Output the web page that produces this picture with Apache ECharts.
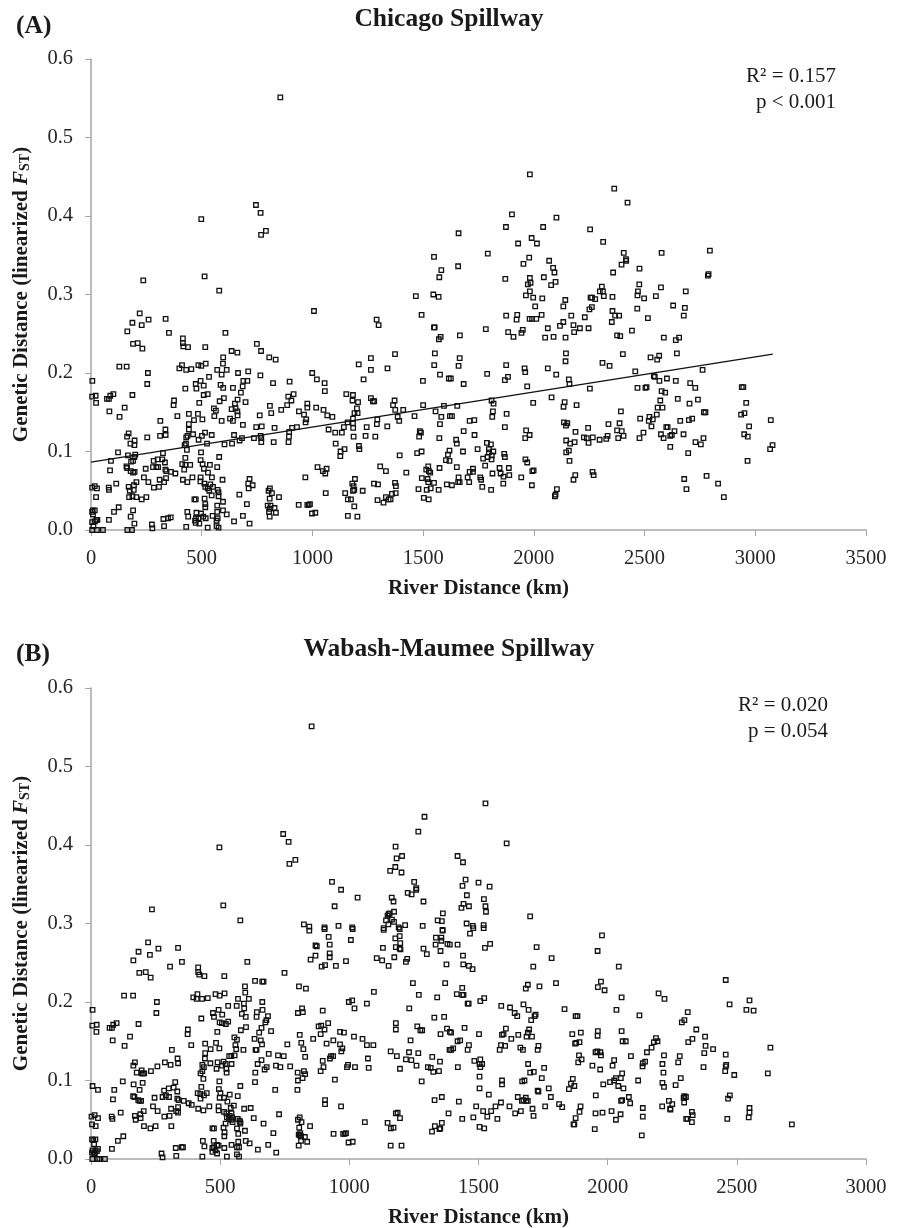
<!DOCTYPE html>
<html><head><meta charset="utf-8">
<style>html,body{margin:0;padding:0;background:#fff}#c{width:899px;height:1228px}</style>
<script src="https://cdn.jsdelivr.net/npm/echarts@6/dist/echarts.min.js"></script>
</head><body><div id="c"></div>
<script>
// [river distance km, linearized Fst]
const chicagoPairs = [[855,.551],[745,.414],[766,.404],[768,.376],[790,.381],[498,.396],[236,.318],[513,.323],[579,.305],[1549,.348],[1582,.331],[1573,.322],[1467,.298],[1546,.300],[1570,.297],
[1982,.453],[2363,.435],[2423,.417],[1901,.402],[2102,.398],[1660,.378],[1874,.386],[2042,.386],[2254,.383],[1990,.372],[1929,.365],[2014,.365],[2313,.367],[1792,.352],[1979,.347],[2406,.353],[2577,.353],[2795,.356],[2416,.345],[2417,.343],[2069,.343],[1953,.339],[1658,.336],[2396,.338],[2087,.334],[2477,.333],[2093,.328],[2358,.328],[1871,.320],[1982,.321],[2045,.322],[2789,.326],[2786,.324],[1985,.315],[1973,.313],[2078,.312],[2098,.316],[2307,.310],[2476,.313],[2574,.309],[2686,.304],[2298,.304],[2312,.304],[1982,.304],[2470,.304],[1964,.299],[1997,.296],[2038,.295],[2316,.298],[2355,.297],[2468,.299],[2551,.298],[2142,.293],[2256,.296],[2263,.296],[2498,.295],[2277,.294],
[220,.276],[260,.268],[337,.269],[187,.264],[229,.261],[164,.253],[352,.251],[607,.251],[1007,.279],[1290,.268],[1299,.261],[1493,.274],[1549,.258],[1552,.258],[1579,.246],[1571,.243],[415,.244],[190,.237],[211,.238],[232,.231],[415,.238],[417,.234],[438,.233],[516,.233],[749,.237],[768,.228],[635,.228],[661,.226],[597,.220],[596,.212],[805,.220],[834,.217],[1373,.224],[1553,.225],[1264,.219],[1209,.211],[1264,.204],[1339,.206],[1550,.210],[128,.208],[161,.208],[411,.210],[399,.206],[430,.204],[453,.205],[485,.210],[498,.209],[518,.212],[570,.204],[613,.204],[590,.198],[533,.195],[257,.200],[254,.186],[6,.190],[664,.200],[710,.202],[765,.197],[999,.200],[1020,.192],[1055,.187],[1231,.192],[1499,.190],[1576,.198],[1616,.193],[897,.189],[822,.187],[688,.190],[706,.190],[473,.186],[495,.190],[509,.184],[476,.180],[426,.180],[585,.185],[597,.181],[641,.181],[685,.183],[1056,.177],[677,.175],[5,.170],[21,.171],[187,.172],[101,.173],[87,.171],[72,.167],[81,.167],[527,.173],[509,.172],[375,.165],[373,.159],[23,.162],[600,.168],[581,.164],[662,.166],[650,.161],[698,.163],[489,.162],[891,.170],[915,.173],[905,.165],[886,.159],[1153,.173],[1183,.172],[1181,.165],[1206,.163],[1264,.168],[1273,.164],[1279,.164],[1371,.165],[1364,.159],[1374,.153],[1410,.153],[1556,.151],[1500,.159],[1594,.158],[977,.161],[977,.156],[1017,.156],[1050,.153],[808,.158],[814,.149],[859,.153],[939,.151],[962,.147],[972,.141],[969,.137],[1201,.155],[1190,.149],[1204,.149],[1067,.146],[1090,.144],[762,.146],[555,.155],[564,.152],[635,.154],[653,.155],[661,.151],[662,.146],[557,.145],[628,.142],[641,.139],[590,.139],[83,.151],[152,.156],[129,.144],[390,.145],[442,.148],[483,.148],[503,.141],[465,.140],[442,.135],[442,.128],[313,.139],[1461,.145],[1582,.144],[1621,.145],[1385,.144],[1392,.139],[1293,.141],[1183,.142],[1159,.137],[1183,.136],[1291,.135],[686,.134],[746,.131],[771,.132],[829,.130],[908,.130],[930,.131],[895,.125],[1142,.131],[1184,.130],[1073,.128],[1245,.131],[1338,.132],[1576,.135],[336,.128],[337,.121],[312,.120],[170,.123],[163,.119],[254,.118],[436,.120],[430,.118],[461,.122],[501,.120],[515,.124],[545,.121],[486,.115],[646,.121],[682,.117],[766,.120],[769,.117],[736,.117],[671,.114],[894,.119],[1103,.124],[1133,.124],[1186,.119],[1240,.120],[1284,.119],[1485,.126],[1490,.124],[1482,.119],[1573,.117],[892,.112],[769,.112],[825,.112],[637,.110],[603,.109],[524,.110],[197,.114],[196,.108],[178,.110],[429,.110],[423,.108],[433,.102],[1105,.110],[1210,.107],[1212,.103],[1145,.103],[1127,.100],[1126,.094],[1394,.095],[1473,.098],[1493,.100],[1612,.096],[1619,.101],[122,.099],[167,.095],[200,.096],[196,.093],[325,.098],[497,.099],[579,.093],[426,.092],[90,.088],[181,.087],[190,.088],[283,.088],[301,.090],[322,.090],[495,.089],[334,.086],[1603,.089],[1619,.088],[160,.081],[163,.079],[179,.075],[190,.073],[197,.074],[412,.084],[426,.083],[448,.083],[504,.084],[537,.083],[570,.080],[247,.078],[280,.080],[295,.080],[303,.080],[86,.076],[336,.077],[340,.075],[361,.074],[381,.072],[421,.077],[510,.078],[528,.073],[546,.067],[1023,.080],[1047,.075],[1064,.078],[1058,.072],[1306,.081],[1332,.075],[1424,.073],[1523,.081],[1574,.079],[1526,.075],[1514,.077],[1532,.073],[968,.067],[716,.065],[239,.067],[259,.061],[284,.054],[307,.055],[310,.064],[339,.066],[330,.061],[458,.067],[415,.064],[435,.061],[495,.067],[494,.062],[512,.059],[594,.064],[1278,.059],[1296,.058],[1373,.060],[1377,.056],[1494,.066],[1520,.065],[1523,.061],[1549,.060],[1607,.058],[1192,.065],[1180,.059],[1186,.056],[1189,.051],[1183,.050],[710,.059],[730,.057],[712,.053],[1479,.052],[1516,.051],[1534,.053],[1570,.051],[5,.054],[17,.056],[27,.053],[80,.054],[81,.051],[114,.059],[170,.055],[194,.057],[205,.061],[193,.051],[175,.050],[516,.055],[527,.053],[539,.058],[551,.055],[534,.050],[572,.051],[576,.048],[808,.053],[802,.050],[817,.047],[670,.045],[1060,.047],[1227,.050],[1148,.047],[849,.042],[172,.042],[187,.043],[205,.042],[229,.039],[250,.042],[23,.042],[467,.039],[473,.039],[513,.040],[545,.044],[576,.043],[807,.040],[1160,.039],[1174,.039],[1294,.038],[1321,.035],[1332,.042],[1344,.039],[1353,.039],[1359,.046],[1376,.047],[1503,.041],[1525,.039],[704,.033],[516,.033],[516,.029],[570,.031],[596,.036],[938,.032],[983,.032],[977,.032],[989,.033],[798,.031],[811,.031],[807,.027],[829,.028],[1189,.030],[125,.029],[104,.023],[8,.025],[5,.023],[17,.025],[190,.025],[435,.023],[476,.022],[497,.021],[570,.023],[596,.025],[613,.020],[835,.022],[804,.023],[998,.021],[1013,.022],[179,.017],[439,.017],[507,.017],[518,.015],[549,.018],[572,.015],[474,.015],[485,.015],[470,.012],[686,.018],[807,.017],[1160,.018],[1203,.017],[9,.020],[81,.013],[24,.013],[18,.011],[29,.013],[5,.010],[196,.008],[327,.014],[348,.015],[360,.016],[646,.011],[567,.012],[473,.009],[489,.008],[716,.008],[275,.007],[277,.002],[330,.005],[430,.004],[527,.003],[567,.005],[576,.003],[5,0],[27,0],[54,0],[164,0],[185,0],[11,.005],
[2006,.285],[2133,.285],[2251,.281],[2262,.284],[2355,.279],[2467,.282],[2629,.286],[2682,.283],[2677,.273],[1875,.273],[1925,.274],[1922,.268],[1981,.269],[1992,.269],[2011,.269],[2035,.274],[2169,.273],[2230,.271],[2367,.273],[2385,.273],[2515,.270],[2352,.265],[2133,.265],[2118,.260],[2179,.261],[2208,.257],[2247,.257],[2063,.257],[1783,.256],[1666,.248],[1884,.252],[1908,.246],[1944,.251],[1950,.255],[2051,.245],[2089,.246],[2143,.245],[2182,.252],[2376,.248],[2390,.247],[2443,.254],[2587,.245],[2641,.242],[2656,.245],[2145,.225],[2143,.215],[2402,.224],[2646,.225],[2527,.220],[2566,.222],[2557,.217],[2310,.213],[2342,.209],[1665,.219],[1660,.209],[1875,.210],[1958,.206],[1961,.201],[2063,.206],[2101,.198],[2458,.202],[2762,.204],[1789,.199],[1625,.193],[1883,.195],[1869,.191],[2158,.192],[2161,.186],[2542,.196],[2546,.195],[2567,.190],[2601,.193],[2641,.190],[2706,.187],[1683,.186],[1970,.183],[2253,.180],[2468,.181],[2509,.182],[2504,.181],[2729,.181],[2939,.182],[2946,.182],[2577,.177],[2593,.175],[2080,.169],[2650,.167],[2571,.165],[2741,.166],[1809,.165],[1818,.161],[1997,.162],[2139,.163],[2134,.157],[2193,.159],[1654,.158],[2703,.161],[2959,.162],[2559,.156],[2581,.156],[1815,.151],[2393,.151],[2768,.150],[2775,.150],[1812,.144],[1877,.148],[2951,.149],[2936,.147],[2555,.147],[2522,.144],[1630,.145],[1710,.139],[1731,.140],[2480,.142],[2537,.141],[2519,.139],[2661,.139],[2700,.140],[2715,.142],[3070,.140],[2136,.137],[2151,.136],[2145,.133],[2337,.135],[2387,.136],[2531,.132],[2598,.131],[2604,.131],[2245,.130],[1869,.131],[2972,.132],[1683,.126],[1965,.127],[2188,.125],[2376,.127],[2397,.126],[2635,.126],[2495,.124],[2574,.122],[2676,.122],[2950,.122],[1732,.121],[1981,.121],[2333,.120],[2405,.120],[2616,.120],[2623,.121],[2966,.119],[1649,.115],[1961,.117],[2226,.118],[2239,.117],[2266,.118],[2297,.115],[2327,.116],[2381,.117],[2477,.117],[2586,.117],[2766,.117],[1652,.110],[1788,.111],[1806,.109],[2146,.114],[2164,.110],[2184,.112],[2247,.111],[2730,.112],[2754,.109],[3078,.108],[1746,.103],[3067,.103],[2616,.106],[1797,.103],[1680,.100],[1817,.100],[1797,.099],[2158,.101],[2146,.099],[2697,.098],[1866,.097],[1869,.093],[1810,.095],[1791,.093],[1771,.091],[1809,.090],[1962,.090],[1970,.086],[2161,.088],[2965,.088],[1780,.082],[1652,.080],[1845,.079],[1887,.079],[1725,.078],[1710,.074],[1725,.074],[1813,.072],[1850,.072],[1889,.070],[1863,.068],[1999,.076],[1993,.075],[2265,.074],[2270,.070],[2187,.070],[2179,.064],[1660,.067],[1658,.061],[1665,.061],[1701,.067],[1708,.061],[1758,.067],[1762,.064],[1943,.067],[1630,.057],[1767,.055],[1807,.051],[1862,.059],[1991,.057],[2679,.065],[2780,.069],[2832,.059],[2689,.052],[2858,.042],[2104,.052],[2098,.045],[2095,.043]];

const wabashPairs = [[854,.551],[744,.414],[765,.404],[768,.376],[791,.381],[497,.397],[236,.318],[512,.323],[578,.304],[933,.353],[968,.343],[1032,.333],[943,.322],[824,.299],[845,.296],[904,.295],[958,.297],[1011,.295],[1291,.436],[1267,.417],[1179,.398],[1183,.383],[1204,.386],[1178,.372],[1158,.367],[1202,.365],[1251,.353],[1259,.345],[1259,.343],[1226,.339],[1241,.337],[1287,.328],[1164,.333],[1171,.328],[1362,.313],[1173,.315],[1156,.313],[1152,.312],[1148,.310],[1142,.304],[1165,.305],[1173,.302],[1151,.299],[1342,.304],[1358,.303],[1133,.294],[1191,.295],[1216,.298],[1284,.297],[1361,.292],
[1527,.453],[1609,.402],[1419,.386],[1440,.378],[1450,.356],[1438,.348],[1500,.352],[1543,.347],[1455,.336],[1521,.331],[1442,.325],[1434,.320],[1463,.322],[1527,.322],[1529,.315],[1700,.309],[1454,.300],[1478,.297],[1520,.298],
[845,.291],[904,.293],[1013,.293],[1133,.292],[1195,.293],[1361,.291],[920,.283],[1006,.279],[1178,.281],[1195,.284],[1335,.282],[1356,.282],[1356,.278],[1334,.273],[1380,.274],[1389,.273],[869,.272],[874,.271],[924,.273],[1180,.270],[1197,.275],[1195,.268],[1198,.267],[1130,.269],[1287,.268],[1300,.261],[1353,.265],[924,.262],[924,.257],[869,.259],[850,.254],[987,.252],[1106,.256],[1127,.253],[1152,.246],[1174,.257],[1224,.255],[1219,.251],[1376,.248],[893,.245],[906,.247],[948,.246],
[221,.276],[261,.268],[337,.269],[184,.264],[228,.260],[164,.253],[352,.251],[605,.251],[306,.245],[415,.244],[187,.237],[212,.238],[231,.231],[415,.238],[419,.235],[439,.233],[516,.233],[749,.237],[635,.227],[663,.226],[668,.226],[1246,.224],[1371,.224],[596,.220],[597,.212],[805,.220],[832,.217],[1095,.213],[1269,.209],[1340,.206],[128,.208],[163,.208],[412,.210],[396,.206],[409,.204],[430,.204],[452,.205],[482,.210],[498,.208],[517,.211],[569,.204],[611,.204],[592,.198],[531,.195],[255,.200],[253,.186],[6,.190],[663,.200],[564,.195],[593,.192],[998,.200],[1011,.202],[1068,.198],[1020,.192],[1232,.192],[817,.192],[801,.186],[820,.187],[897,.189],[472,.186],[494,.190],[508,.184],[476,.181],[427,.179],[584,.185],[599,.181],[642,.187],[641,.181],[664,.190],[685,.182],[679,.177],[675,.174],[1329,.180],[1367,.181],[5,.170],[22,.171],[184,.172],[99,.173],[86,.171],[72,.167],[81,.167],[498,.174],[507,.173],[522,.172],[531,.175],[21,.162],[375,.165],[374,.159],[489,.162],[600,.168],[580,.164],[660,.167],[651,.161],[697,.163],[881,.169],[891,.170],[918,.173],[904,.165],[889,.159],[1180,.173],[1180,.165],[1263,.169],[1275,.164],[1282,.164],[1378,.166],[1353,.159],[1389,.162],[964,.162],[979,.161],[1018,.156],[1051,.153],[1068,.145],[1093,.145],[808,.158],[814,.148],[860,.153],[938,.151],[912,.147],[964,.146],[973,.141],[969,.137],[1237,.151],[760,.146],[555,.155],[565,.152],[633,.153],[657,.151],[662,.146],[559,.145],[562,.140],[84,.151],[151,.156],[130,.144],[388,.145],[442,.147],[484,.148],[497,.141],[463,.140],[442,.135],[441,.128],[590,.139],[313,.139],[637,.139],[641,.139],[822,.140],[1160,.137],[1231,.136],[1267,.135],[1388,.139],[688,.134],[535,.131],[543,.131],[556,.132],[724,.132],[746,.131],[829,.130],[1184,.131],[1321,.130],[925,.128],[929,.131],[937,.131],[1072,.128],[1219,.127],[1240,.126],[335,.128],[337,.122],[308,.120],[286,.123],[257,.118],[232,.112],[170,.123],[164,.119],[177,.110],[196,.113],[196,.109],[206,.109],[201,.109],[431,.120],[437,.117],[462,.122],[490,.123],[486,.115],[507,.119],[513,.124],[521,.121],[524,.115],[525,.110],[544,.121],[660,.126],[645,.121],[680,.117],[672,.114],[636,.110],[716,.119],[733,.117],[771,.118],[897,.125],[900,.117],[889,.112],[995,.120],[991,.117],[1022,.117],[1075,.116],[1260,.119],[1304,.117],[1315,.116],[1351,.124],[1196,.115],[1325,.111],[1347,.112],[800,.110],[824,.112],[829,.108],[819,.103],[801,.100],[635,.098],[944,.101],[1280,.099],[424,.109],[431,.112],[435,.102],[6,.093],[27,.088],[123,.099],[165,.095],[200,.097],[188,.088],[326,.098],[427,.092],[497,.099],[578,.093],[90,.088],[283,.087],[301,.090],[320,.091],[334,.086],[495,.089],[501,.084],[799,.088],[713,.088],[163,.080],[168,.079],[183,.075],[188,.074],[194,.074],[413,.084],[423,.083],[448,.084],[424,.077],[437,.081],[537,.082],[568,.080],[246,.078],[277,.079],[290,.081],[302,.079],[85,.076],[334,.077],[339,.075],[359,.074],[378,.071],[390,.069],[498,.078],[515,.078],[528,.073],[553,.068],[906,.075],[906,.070],[968,.067],[1330,.075],[1358,.079],[240,.067],[258,.061],[284,.054],[304,.055],[310,.064],[337,.066],[330,.061],[337,.059],[415,.064],[435,.062],[458,.067],[494,.067],[494,.062],[541,.065],[593,.064],[618,.065],[728,.057],[2,.054],[14,.056],[27,.052],[80,.054],[83,.051],[115,.059],[170,.055],[191,.057],[204,.061],[192,.052],[173,.050],[515,.060],[524,.058],[544,.058],[537,.055],[526,.053],[546,.053],[534,.051],[542,.050],[548,.047],[568,.051],[575,.049],[578,.047],[521,.045],[630,.052],[808,.053],[801,.050],[815,.047],[668,.045],[1060,.047],[1148,.046],[848,.042],[4,.044],[18,.042],[205,.042],[230,.039],[250,.042],[311,.042],[470,.039],[476,.039],[513,.040],[565,.039],[578,.045],[806,.040],[1161,.039],[1171,.040],[1180,.058],[1187,.059],[1196,.052],[1384,.058],[596,.036],[517,.034],[516,.029],[570,.032],[706,.033],[804,.031],[810,.033],[939,.032],[976,.032],[982,.032],[987,.033],[1320,.035],[1331,.042],[1352,.039],[1349,.038],[1358,.046],[813,.029],[828,.028],[808,.030],[125,.029],[104,.023],[4,.025],[17,.025],[9,.024],[433,.023],[475,.023],[570,.022],[599,.023],[614,.020],[813,.023],[837,.022],[997,.021],[1013,.022],[439,.016],[494,.017],[488,.018],[470,.014],[476,.015],[516,.014],[544,.018],[565,.015],[573,.015],[686,.018],[804,.017],[1160,.017],[1202,.017],[12,.019],[81,.013],[27,.013],[17,.011],[23,.010],[6,.011],[4,.008],[12,.008],[15,.007],[328,.014],[351,.015],[356,.015],[646,.012],[482,.011],[470,.009],[488,.007],[717,.008],[273,.007],[277,.002],[330,.004],[431,.003],[526,.003],[565,.006],[573,.003],[5,0],[25,0],[32,0],[54,0],
[1978,.285],[1961,.265],[1467,.287],[1480,.294],[1520,.294],[1419,.273],[1525,.269],[1545,.274],[1725,.270],[1783,.256],[1440,.259],[1441,.248],[1463,.246],[1477,.242],[1712,.245],[2043,.245],[2457,.228],[1800,.224],[1974,.226],[1962,.219],[1988,.215],[1691,.222],[1683,.217],[1736,.220],[1437,.218],[1416,.210],[1437,.209],[1442,.209],[2197,.211],[2220,.204],[2054,.206],[1522,.205],[1507,.201],[2549,.202],[2472,.197],[1458,.198],[1462,.198],[1588,.195],[1622,.193],[1674,.197],[1694,.190],[1640,.186],[1650,.182],[1721,.184],[1717,.182],[1704,.177],[1833,.191],[2034,.190],[2537,.190],[2565,.189],[1876,.182],[1883,.182],[2123,.183],[2310,.187],[2297,.177],[2287,.174],[2343,.165],[1606,.166],[1696,.165],[1446,.167],[1394,.161],[1502,.159],[1597,.159],[1591,.158],[1627,.153],[1654,.158],[1691,.161],[1686,.156],[1707,.156],[1863,.159],[1896,.161],[1962,.163],[1961,.157],[2054,.163],[2377,.156],[2187,.154],[2179,.149],[2193,.150],[2312,.149],[2328,.153],[2058,.150],[2070,.150],[1419,.150],[1429,.151],[1874,.147],[1878,.148],[1891,.149],[1463,.145],[1458,.139],[1402,.141],[1394,.139],[1587,.145],[1603,.144],[1582,.139],[1662,.142],[1672,.139],[1732,.144],[1729,.139],[2379,.144],[2408,.140],[2170,.142],[2152,.136],[2630,.142],[2374,.135],[1953,.136],[1960,.137],[1972,.136],[1974,.132],[1889,.132],[2090,.131],[2218,.132],[2279,.131],[2457,.133],[1899,.127],[1886,.123],[2025,.126],[2019,.119],[1941,.119],[1507,.127],[1484,.125],[1504,.121],[1514,.121],[1507,.117],[1420,.117],[1692,.121],[1754,.116],[1714,.111],[1700,.110],[1971,.114],[2145,.124],[2136,.122],[2135,.118],[2212,.121],[2216,.110],[2273,.123],[2371,.117],[2459,.120],[2457,.118],[2455,.112],[2490,.107],[2620,.109],[1504,.105],[1591,.100],[1591,.095],[1669,.099],[1678,.100],[1745,.103],[1865,.102],[1858,.096],[1871,.093],[1850,.089],[2056,.109],[2051,.103],[2032,.103],[2025,.100],[2009,.098],[1983,.095],[2041,.093],[2061,.090],[2118,.100],[2283,.103],[2263,.094],[2212,.097],[2218,.092],[1504,.090],[1772,.090],[1729,.087],[1732,.086],[1540,.082],[1954,.081],[1652,.079],[1780,.079],[1683,.078],[1668,.074],[1674,.075],[1691,.074],[1685,.074],[2297,.080],[2303,.079],[2294,.078],[2296,.072],[2473,.081],[2466,.077],[2082,.079],[2087,.071],[2052,.074],[2056,.075],[1424,.073],[1587,.072],[2237,.074],[2250,.070],[1812,.070],[1824,.066],[1758,.067],[1895,.067],[1891,.060],[1491,.067],[1566,.067],[1620,.067],[1709,.064],[2211,.067],[2242,.064],[2243,.063],[2136,.065],[2549,.065],[2549,.059],[2546,.053],[1518,.061],[1549,.061],[1664,.061],[1642,.058],[1953,.058],[1980,.059],[2015,.061],[2050,.057],[2326,.060],[2329,.056],[2136,.054],[1713,.055],[1534,.054],[1573,.051],[1480,.053],[1437,.051],[1876,.052],[2032,.050],[2304,.051],[2309,.051],[2326,.047],[2463,.051],[1868,.044],[1871,.044],[2713,.044],[1504,.041],[1522,.039],[1950,.038],[2132,.030]];

const chicagoTrend = [[0,.0865],[3079,.224]];
const fstTicksMax = 0.6;
const chicagoDistanceMax = 3500;
const wabashDistanceMax = 3000;
const panelTitles = ['Chicago Spillway','Wabash-Maumee Spillway'];
const panelTags = ['(A)','(B)'];
const statsA = ['R² = 0.157','p < 0.001'];
const statsB = ['R² = 0.020','p = 0.054'];
const xName = 'River Distance (km)';
const serif = '"Liberation Serif","Times New Roman",serif';

function xAxis(i,max){return {type:'value',gridIndex:i,min:0,max:max,interval:500,
  name:xName,nameLocation:'middle',nameGap:48,nameTextStyle:{fontFamily:serif,fontWeight:'bold',fontSize:21,color:'#1a1a1a'},
  splitLine:{show:false},axisLine:{onZero:false,lineStyle:{color:'#a6a6a6',width:1.5}},
  axisTick:{show:true,length:6,inside:false,lineStyle:{color:'#a6a6a6',width:1}},
  axisLabel:{fontFamily:serif,fontSize:20.5,color:'#262626',margin:18,showMaxLabel:true,formatter:v=>String(v)}};}
function yAxis(i){return {type:'value',gridIndex:i,min:0,max:fstTicksMax,interval:.1,
  name:'{b|Genetic Distance (linearized }{i|F}{s|ST}{b|)}',nameLocation:'middle',nameGap:59,nameRotate:90,
  nameTextStyle:{rich:{b:{fontFamily:serif,fontWeight:'bold',fontSize:21,color:'#1a1a1a'},
    i:{fontFamily:serif,fontWeight:'bold',fontStyle:'italic',fontSize:21,color:'#1a1a1a'},
    s:{fontFamily:serif,fontWeight:'bold',fontSize:14,color:'#1a1a1a',verticalAlign:'bottom',padding:[5,0,0,0]}}},
  splitLine:{show:false},axisLine:{show:true,lineStyle:{color:'#a6a6a6',width:1.5}},
  axisTick:{show:true,length:6,lineStyle:{color:'#a6a6a6',width:1}},
  axisLabel:{fontFamily:serif,fontSize:20.5,color:'#262626',margin:18,padding:[4,0,0,0],formatter:v=>v.toFixed(1)}};}
function scatter(i,d){return {type:'scatter',xAxisIndex:i,yAxisIndex:i,data:d,symbol:'rect',symbolSize:4.5,clip:false,
  progressive:0,animation:false,silent:true,itemStyle:{color:'rgba(255,255,255,0)',borderColor:'#111',borderWidth:1.3,opacity:1}};}
function txt(x,y,t,size,bold,align){return {type:'text',x:x,y:y,silent:true,
  style:{text:t,x:0,y:0,fill:'#1a1a1a',font:(bold?'bold ':'')+size+'px '+serif,textAlign:align||'left',textVerticalAlign:'middle'}};}

const chart = echarts.init(document.getElementById('c'),null,{renderer:'canvas'});
chart.setOption({animation:false,backgroundColor:'#fff',
  grid:[{left:91,top:59,width:775,height:471,outerBoundsMode:'none',containLabel:false},{left:91,top:688,width:775,height:471,outerBoundsMode:'none',containLabel:false}],
  xAxis:[xAxis(0,chicagoDistanceMax),xAxis(1,wabashDistanceMax)],
  yAxis:[yAxis(0),yAxis(1)],
  series:[scatter(0,chicagoPairs),
    {type:'line',xAxisIndex:0,yAxisIndex:0,data:chicagoTrend,symbol:'none',silent:true,lineStyle:{color:'#111',width:1.4}},
    scatter(1,wabashPairs)],
  graphic:[txt(449,19,panelTitles[0],25.5,true,'center'),txt(449,649,panelTitles[1],25.5,true,'center'),
    txt(16,26,panelTags[0],25.5,true),txt(16,654,panelTags[1],25.5,true),
    txt(836,76,statsA[0],21,false,'right'),txt(836,102,statsA[1],21,false,'right'),
    txt(828,705,statsB[0],21,false,'right'),txt(828,731,statsB[1],21,false,'right')]
});
</script></body></html>
